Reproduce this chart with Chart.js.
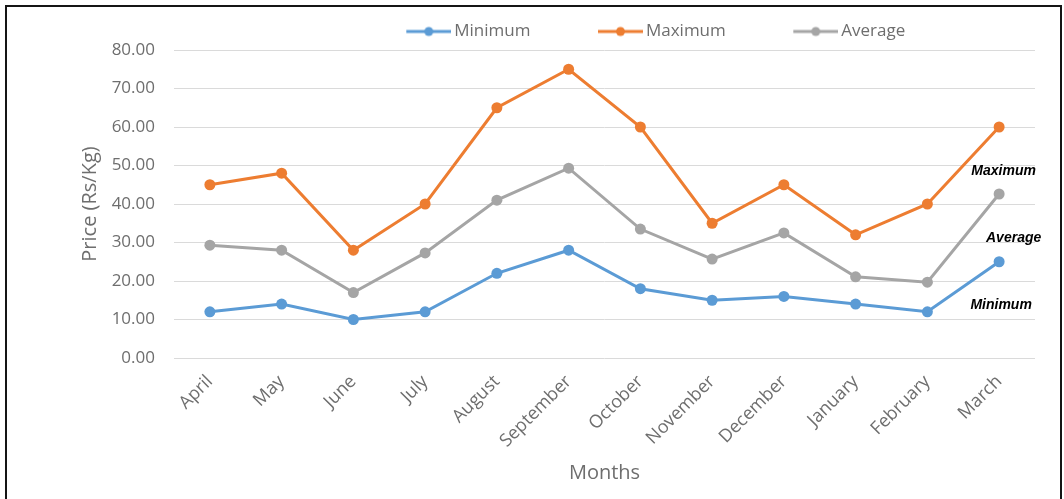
<!DOCTYPE html>
<html>
<head>
<meta charset="utf-8">
<title>Monthly price range</title>
<script src="https://cdn.jsdelivr.net/npm/chart.js@4.4.0/dist/chart.umd.min.js"></script>
<style>
  html, body { margin: 0; padding: 0; background: #ffffff; overflow: hidden; }
  #wrap { position: relative; width: 1064px; height: 499px; }
  #frame {
    position: absolute; left: 5px; top: 5px; width: 1053px; height: 520px;
    border: 2px solid #151515; border-bottom: none; pointer-events: none;
  }
  canvas { position: absolute; left: 0; top: 0; }
</style>
</head>
<body>
<div id="wrap">
  <canvas id="chart" width="1064" height="499"></canvas>
  <div id="frame"></div>
</div>
<script>
// Months of the marketing year
const months = ['April', 'May', 'June', 'July', 'August', 'September',
                'October', 'November', 'December', 'January', 'February', 'March'];

// Prices in Rs/Kg
const minimum = [12, 14, 10, 12, 22, 28, 18, 15, 16, 14, 12, 25];
const maximum = [45, 48, 28, 40, 65, 75, 60, 35, 45, 32, 40, 60];
const average = [29.3, 28, 17, 27.3, 41, 49.3, 33.5, 25.7, 32.5, 21.1, 19.7, 42.6];

// Y axis ticks
const yTicks = [0, 10, 20, 30, 40, 50, 60, 70, 80];

// Series names written beside the last month
const sideLabels = ['Maximum', 'Average', 'Minimum'];
const sideLabelValues = [48.6, 31.2, 13.8];

const BLUE = '#5b9bd5', ORANGE = '#ed7d31', GREY = '#a5a5a5';
const TEXT = '#6e6e6e';

Chart.defaults.font.family = '"Open Sans", sans-serif';
Chart.defaults.color = TEXT;

// Legend swatch: a short line with a dot in the middle
function swatch(color) {
  const c = document.createElement('canvas');
  c.width = 107; c.height = 12;
  const g = c.getContext('2d');
  g.strokeStyle = color; g.lineWidth = 3;
  g.beginPath(); g.moveTo(62, 6); g.lineTo(107, 6); g.stroke();
  g.fillStyle = color;
  g.beginPath(); g.arc(84.5, 6, 4.5, 0, Math.PI * 2); g.fill();
  return c;
}
const swatches = [swatch(BLUE), swatch(ORANGE), swatch(GREY)];

// Moves the legend row to the right of the plot centre
const legendShift = {
  id: 'legendShift',
  afterLayout(chart) {
    const lg = chart.legend;
    if (lg) { lg.left += 73; lg.right += 73; }
  }
};

// Bold italic series names at the right end of the lines
const sideText = {
  id: 'sideText',
  afterDatasetsDraw(chart) {
    const {ctx, scales: {x, y}} = chart;
    const xs = x.getPixelForValue(months.length - 1);
    const dx = [4.5, 14.5, 2];
    ctx.save();
    ctx.font = 'italic bold 14px "Liberation Sans", Arial, sans-serif';
    ctx.fillStyle = '#000000';
    ctx.textAlign = 'center';
    ctx.textBaseline = 'middle';
    sideLabels.forEach((t, i) => {
      ctx.fillText(t, xs + dx[i], y.getPixelForValue(sideLabelValues[i]));
    });
    ctx.restore();
  }
};

function series(label, data, color) {
  return {
    label, data,
    borderColor: color, backgroundColor: color,
    borderWidth: 3, pointRadius: 5.5, pointHoverRadius: 5.5,
    pointBorderWidth: 0, tension: 0
  };
}

new Chart(document.getElementById('chart'), {
  type: 'line',
  data: {
    labels: months,
    datasets: [
      series('Minimum', minimum, BLUE),
      series('Maximum', maximum, ORANGE),
      series('Average', average, GREY)
    ]
  },
  options: {
    responsive: false,
    animation: false,
    layout: { padding: { left: 74, right: 29, top: 12, bottom: 10 } },
    plugins: {
      tooltip: { enabled: false },
      legend: {
        position: 'top',
        labels: {
          usePointStyle: true,
          pointStyleWidth: 96,
          padding: 11,
          color: TEXT,
          font: { size: 17 },
          generateLabels(chart) {
            const items = Chart.defaults.plugins.legend.labels.generateLabels(chart);
            items.forEach((it, i) => { it.pointStyle = swatches[i]; });
            return items;
          }
        }
      }
    },
    scales: {
      x: {
        offset: true,
        grid: { display: false, drawTicks: false },
        border: { display: false },
        ticks: { minRotation: 45, maxRotation: 45, padding: 13, font: { size: 18 }, color: TEXT },
        title: { display: true, text: 'Months', font: { size: 20 }, color: TEXT, padding: { top: 0, bottom: 4 } },
        afterFit(scale) { scale.height = 131; }
      },
      y: {
        min: 0, max: 80,
        afterBuildTicks(scale) { scale.ticks = yTicks.map(v => ({ value: v })); },
        grid: { color: '#dadada', lineWidth: 1, drawTicks: false },
        border: { display: false },
        ticks: { padding: 19, font: { size: 17 }, color: TEXT, callback: v => Number(v).toFixed(2) },
        title: { display: true, text: 'Price (Rs/Kg)', font: { size: 20 }, color: TEXT, padding: { top: 4, bottom: 0 } },
        afterFit(scale) { scale.width = 100; }
      }
    }
  },
  plugins: [legendShift, sideText]
});
</script>
</body>
</html>
